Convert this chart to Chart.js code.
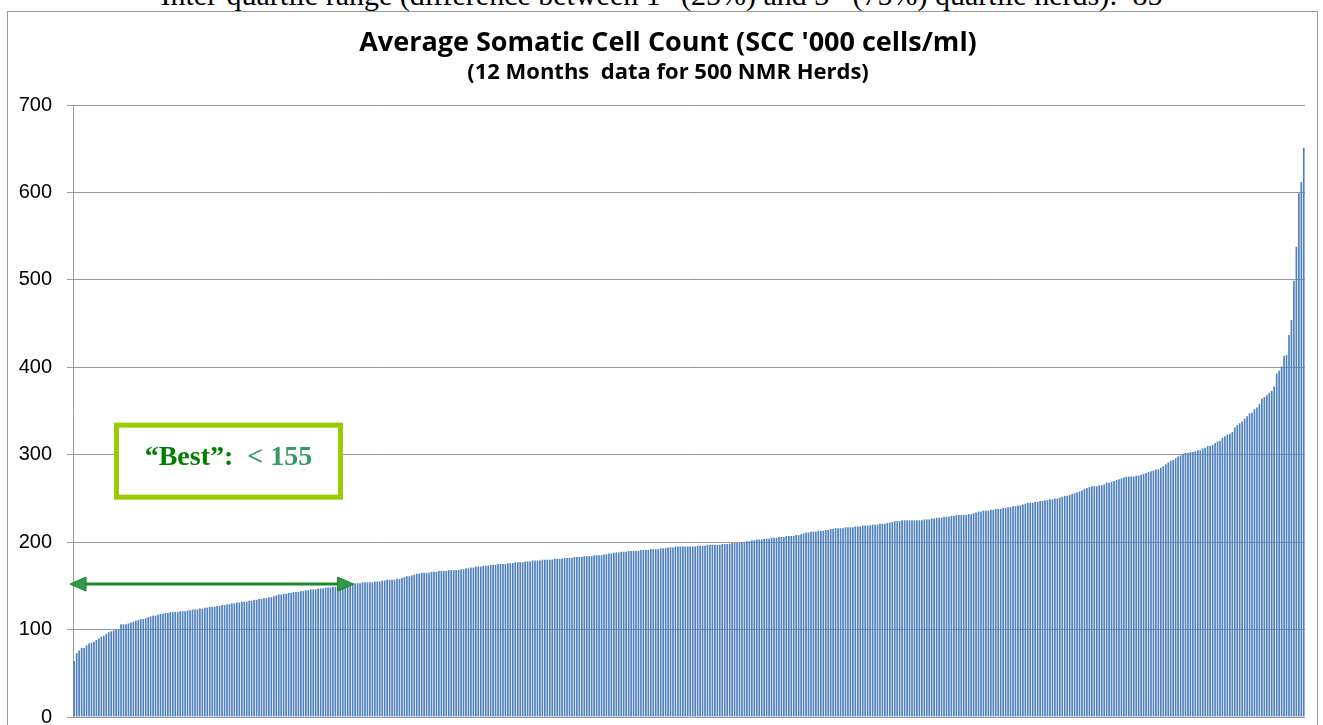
<!DOCTYPE html>
<html>
<head>
<meta charset="utf-8">
<title>Average Somatic Cell Count</title>
<script src="https://cdn.jsdelivr.net/npm/chart.js@4.4.1/dist/chart.umd.min.js"></script>
<style>
  html, body { margin: 0; padding: 0; background: #fff; overflow: hidden; }
  #page { position: relative; width: 1323px; height: 725px; overflow: hidden; }
  #note {
    position: absolute; left: 0; top: -20px; width: 1323px;
    text-align: center; white-space: nowrap; color: #000;
    font: 30px "Liberation Serif", "Times New Roman", serif; line-height: 30px;
  }
  #note sup { font-size: 19px; line-height: 0; }
  #frame {
    position: absolute; left: 7px; top: 11px; width: 1311px; height: 760px;
    border: 1px solid #9a9a9a; box-sizing: border-box;
  }
  #chartSCC { position: absolute; left: 0; top: 0; }
</style>
</head>
<body>
<div id="page">
  <div id="note">Inter-quartile range (difference between 1<sup>st</sup> (25%) and 3<sup>rd</sup> (75%) quartile herds):&nbsp; 85</div>
  <div id="frame"></div>
  <canvas id="chartSCC" width="1323" height="725"></canvas>
</div>
<script>
// Herd average SCC ('000 cells/ml), 500 herds sorted low to high
const sccValues = [
  64, 73, 76, 79, 79, 82, 84, 85, 86, 88, 90, 92, 93, 95, 97, 98, 99, 100, 100, 106,
  106, 106, 107, 108, 109, 110, 111, 112, 112, 113, 114, 115, 116, 116, 117, 118, 118, 119, 119, 120,
  120, 120, 120, 121, 121, 121, 122, 122, 123, 123, 123, 124, 124, 125, 125, 126, 126, 126, 127, 127,
  128, 128, 129, 129, 130, 130, 131, 131, 132, 132, 132, 133, 133, 134, 134, 135, 135, 136, 136, 137,
  137, 138, 139, 140, 140, 141, 141, 142, 142, 143, 143, 143, 144, 144, 145, 145, 146, 146, 146, 147,
  147, 147, 148, 148, 148, 149, 149, 150, 150, 151, 151, 151, 152, 152, 153, 153, 153, 154, 154, 154,
  154, 154, 155, 155, 155, 156, 156, 157, 157, 157, 157, 158, 158, 159, 160, 161, 161, 162, 163, 164,
  164, 165, 165, 165, 165, 166, 166, 166, 167, 167, 167, 167, 168, 168, 168, 168, 168, 169, 169, 170,
  170, 171, 171, 172, 172, 172, 173, 173, 173, 174, 174, 174, 175, 175, 175, 175, 176, 176, 176, 177,
  177, 177, 177, 178, 178, 178, 179, 179, 179, 179, 180, 180, 180, 180, 180, 181, 181, 181, 181, 182,
  182, 182, 182, 183, 183, 183, 183, 184, 184, 184, 184, 185, 185, 185, 185, 186, 186, 187, 187, 188,
  188, 188, 189, 189, 189, 190, 190, 190, 190, 190, 191, 191, 191, 191, 192, 192, 192, 192, 193, 193,
  193, 194, 194, 194, 195, 195, 195, 195, 195, 195, 195, 195, 195, 196, 196, 196, 196, 197, 197, 197,
  197, 197, 197, 198, 198, 198, 198, 199, 199, 199, 199, 200, 200, 201, 201, 202, 202, 203, 203, 203,
  204, 204, 204, 205, 205, 205, 206, 206, 206, 207, 207, 207, 207, 208, 208, 209, 210, 211, 211, 212,
  212, 212, 213, 213, 213, 214, 214, 215, 215, 216, 216, 216, 216, 217, 217, 217, 217, 218, 218, 218,
  219, 219, 219, 219, 220, 220, 220, 221, 221, 221, 222, 222, 223, 224, 224, 224, 225, 225, 225, 225,
  225, 225, 225, 225, 225, 226, 226, 226, 227, 227, 228, 228, 228, 229, 229, 229, 230, 230, 231, 231,
  231, 231, 231, 232, 232, 233, 234, 235, 235, 236, 236, 236, 237, 237, 238, 238, 238, 239, 239, 240,
  240, 241, 241, 242, 242, 243, 244, 245, 245, 245, 246, 246, 247, 247, 248, 248, 249, 249, 250, 250,
  251, 252, 253, 253, 254, 255, 256, 257, 258, 259, 261, 262, 263, 264, 264, 264, 265, 265, 266, 268,
  268, 269, 270, 271, 272, 273, 274, 275, 275, 275, 275, 276, 276, 277, 278, 279, 280, 281, 282, 283,
  283, 285, 287, 289, 291, 293, 294, 296, 298, 299, 301, 302, 302, 303, 303, 304, 305, 305, 307, 308,
  310, 310, 311, 313, 315, 316, 319, 321, 323, 324, 326, 331, 334, 336, 338, 341, 344, 347, 348, 352,
  354, 358, 364, 366, 368, 371, 373, 378, 393, 396, 401, 413, 414, 437, 454, 499, 538, 599, 612, 651
];

// one category per herd, no labels shown on the axis
const herdLabels = sccValues.map((v, i) => 'Herd ' + (i + 1));

const yTicks = [0, 100, 200, 300, 400, 500, 600, 700];

const chartTitle = "Average Somatic Cell Count (SCC '000 cells/ml)";
const chartSubtitle = '(12 Months  data for 500 NMR Herds)';

// annotation: "best" quarter of herds
const bestThreshold = 155;
const bestArrowValue = 152;
const bestArrowEndHerd = 113;

/**
 * Center title + subtitle over the whole chart frame, not the canvas minus padding
 */
const centerTitlesPlugin = {
  id: 'centerTitles',
  afterLayout(chart) {
    chart.boxes.forEach(b => {
      if (b.position === 'top' && !b.axis) {
        b.left = 31;
        b.right = 1305;
      }
    });
  }
};

/**
 * Green arrow along the best herds + the boxed label
 */
const bestHerdsPlugin = {
  id: 'bestHerds',
  afterDatasetsDraw(chart) {
    const { ctx, chartArea, scales: { x, y } } = chart;

    // arrow
    const ay = y.getPixelForValue(bestArrowValue);
    const x0 = chartArea.left - 3;
    const x1 = x.getPixelForValue(bestArrowEndHerd) + 1;
    const headL = 16, headH = 7;
    ctx.save();
    ctx.strokeStyle = '#1d8a2e';
    ctx.lineWidth = 3;
    ctx.beginPath();
    ctx.moveTo(x0 + headL - 2, ay);
    ctx.lineTo(x1 - headL + 2, ay);
    ctx.stroke();
    ctx.fillStyle = '#2f9c48';
    ctx.strokeStyle = '#1d7f2c';
    ctx.lineWidth = 1;
    ctx.beginPath();
    ctx.moveTo(x0, ay);
    ctx.lineTo(x0 + headL, ay - headH);
    ctx.lineTo(x0 + headL, ay + headH);
    ctx.closePath();
    ctx.fill();
    ctx.stroke();
    ctx.beginPath();
    ctx.moveTo(x1, ay);
    ctx.lineTo(x1 - headL, ay - headH);
    ctx.lineTo(x1 - headL, ay + headH);
    ctx.closePath();
    ctx.fill();
    ctx.stroke();

    // boxed label
    const cx = x.getPixelForValue(62.6);
    const cy = y.getPixelForValue(292.6);
    const bw = 229, bh = 77, bl = 5;
    ctx.fillStyle = '#ffffff';
    ctx.fillRect(cx - bw / 2, cy - bh / 2, bw, bh);
    ctx.strokeStyle = '#99cc00';
    ctx.lineWidth = bl;
    ctx.strokeRect(cx - bw / 2 + bl / 2, cy - bh / 2 + bl / 2, bw - bl, bh - bl);

    const part1 = '\u201CBest\u201D:  ';
    const part2 = '< ' + bestThreshold;
    ctx.font = 'bold 28px "Liberation Serif", "Times New Roman", serif';
    ctx.textBaseline = 'middle';
    ctx.textAlign = 'left';
    const w1 = ctx.measureText(part1).width;
    const w2 = ctx.measureText(part2).width;
    let tx = cx - (w1 + w2) / 2;
    ctx.fillStyle = '#008000';
    ctx.fillText(part1, tx, cy - 3);
    ctx.fillStyle = '#339966';
    ctx.fillText(part2, tx + w1, cy - 3);
    ctx.restore();
  }
};

const ctx = document.getElementById('chartSCC').getContext('2d');

const chart = new Chart(ctx, {
  type: 'bar',
  data: {
    labels: herdLabels,
    datasets: [{
      label: 'Average SCC',
      data: sccValues,
      backgroundColor: '#4f81bd',
      borderWidth: 0,
      barPercentage: 0.68,
      categoryPercentage: 1.0
    }]
  },
  options: {
    responsive: false,
    animation: false,
    layout: { padding: { top: 0, right: 18, bottom: 8, left: 0 } },
    plugins: {
      legend: { display: false },
      tooltip: { enabled: false },
      title: {
        display: true,
        text: chartTitle,
        color: '#000',
        font: { family: '"Open Sans", Lato, sans-serif', size: 27, weight: 'bold' },
        padding: { top: 27, bottom: 0 }
      },
      subtitle: {
        display: true,
        text: chartSubtitle,
        color: '#000',
        font: { family: '"Open Sans", Lato, sans-serif', size: 22, weight: 'bold' },
        padding: { top: 0.4, bottom: 18.8 }
      }
    },
    scales: {
      x: {
        display: false,
        grid: { display: false }
      },
      y: {
        min: 0,
        max: 700,
        afterBuildTicks: (scale) => { scale.ticks = yTicks.map(v => ({ value: v })); },
        ticks: {
          color: '#000',
          font: { family: '"Liberation Sans", Arial, sans-serif', size: 20 },
          padding: 15
        },
        grid: { color: '#9a9a9a', lineWidth: 1, tickLength: 6 },
        border: { color: '#9a9a9a', width: 1 },
        afterFit: (scale) => {
          scale.width = 73;
          scale.paddingTop = 0;
          scale.paddingBottom = 0;
        }
      }
    }
  },
  plugins: [centerTitlesPlugin, bestHerdsPlugin]
});
</script>
</body>
</html>
